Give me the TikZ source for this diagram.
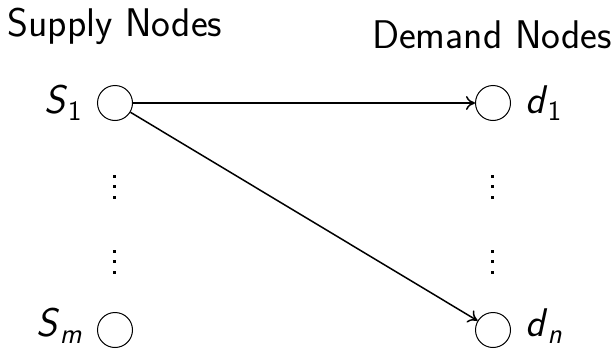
\documentclass[tikz,border=0pt]{standalone}
\usetikzlibrary{arrows.meta}
\begin{document}
\begin{tikzpicture}[x={(0.5pt,0)},y={(0,-0.5pt)},
  every node/.style={font=\sffamily\fontsize{20}{24}\selectfont},
  lbl/.style={font=\sffamily\fontsize{20}{24}\selectfont,inner sep=0pt},
  netnode/.style={circle,draw,line width=0.5pt,minimum size=17.5pt,inner sep=0pt},
  flow/.style={line width=0.75pt,-{To[length=4.5pt,width=7pt]}},
  dotmark/.style={fill=black}]
\useasboundingbox (0,0) rectangle (615,348);
\newcommand\subidx[1]{\raisebox{-0.4ex}{\fontsize{14}{16}\selectfont #1}}
% column headings
\node (hs) at (115,26) {Supply Nodes};
\node (hd) at (492,35) {Demand Nodes};
% supply side
\node[netnode] (s1) at (115,103) {};
\node[netnode] (sm) at (115,330) {};
\node[lbl,anchor=east] (ls1) at ([xshift=-7.5pt]s1.west) {\textsl{S}\subidx{1}};
\node[lbl,anchor=east] (lsm) at ([xshift=-7.5pt,yshift=2pt]sm.west) {\textsl{S}\subidx{\slshape m}};
% demand side
\node[netnode] (d1) at (493,103) {};
\node[netnode] (dn) at (493,330) {};
\node[lbl,anchor=west] (ld1) at ([xshift=7pt]d1.east) {\textsl{d}\subidx{1}};
\node[lbl,anchor=west] (ldn) at ([xshift=7pt,yshift=2pt]dn.east) {\textsl{d}\subidx{\slshape n}};
% vertical ellipses between the first and last rows
\foreach \cx in {114,492}{
  \foreach \cy in {176,186.5,197,251,261.5,272}{
    \fill[dotmark] (\cx-1.5,\cy-1.5) rectangle (\cx+1.5,\cy+1.5);
  }
}
% flows
\draw[flow] (s1) -- (d1);
\draw[flow] (s1) -- (dn);
\end{tikzpicture}
\end{document}
